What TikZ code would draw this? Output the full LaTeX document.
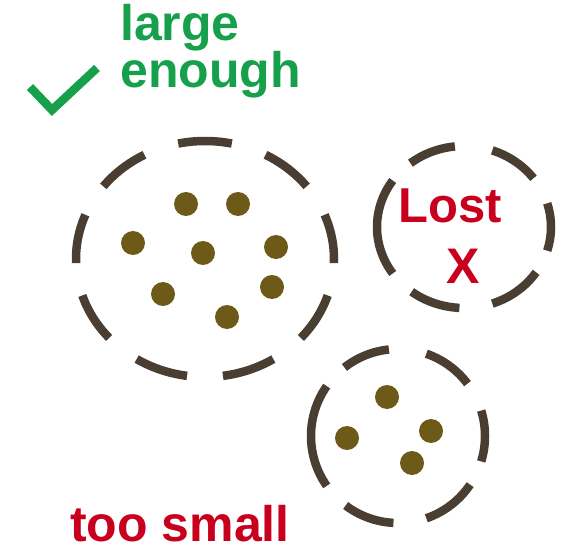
\documentclass[tikz,border=0pt]{standalone}
\usepackage{fontspec}
\setmainfont{Liberation Sans}
\definecolor{okgreen}{HTML}{17A04B}
\definecolor{lostred}{HTML}{C8001E}
\definecolor{rimc}{HTML}{4A3E32}
\definecolor{seed}{HTML}{6E5A18}
\tikzset{rim/.style={rimc,line width=8.5pt},
  seeds/.style={fill=seed},
  word/.style={font=\bfseries\fontsize{50}{43}\selectfont,inner sep=0pt,anchor=base west}}
% ring with a gap at top and bottom: centre, x radius, y radius
\newcommand{\ring}[3]{%
  \foreach \a/\b in {-17/17,37/71,96/128,145/215,233/267,289/326}
    \draw[rim] (#1) ++(\a:#2 and #3) arc[start angle=\a,end angle=\b,x radius=#2,y radius=#3];}

\begin{document}
\begin{tikzpicture}[x=1pt,y=1pt]
  \useasboundingbox (0,0) rectangle (575,552);
  \coordinate (bigc) at (205,293);
  \coordinate (lostc) at (464,325);
  \coordinate (smallc) at (398,116);
  % large group
  \foreach \a in {90,130,...,410}
    \draw[rim] (bigc) ++(\a-12:129 and 118) arc[start angle=\a-12,end angle=\a+12,x radius=129,y radius=118];
  \foreach \p in {(186,348),(238,348),(133,309),(203,299),(276,305),(163,258),(272,265),(227,235)}
    \fill[seeds] \p circle[radius=12];
  % lost group and small group
  \ring{lostc}{87}{81}
  \ring{smallc}{87}{87}
  \foreach \p in {(387,155),(347,114),(431,121),(412,89)}
    \fill[seeds] \p circle[radius=12];
  % labels
  \draw[okgreen,line width=8.5pt,line join=miter] (30,465) -- (52,442) -- (97,484);
  \node[word,okgreen,align=left] (large) at (120,464) {large\\enough};
  \node[word,lostred,font=\bfseries\fontsize{49}{49}\selectfont] (lost) at (398,329) {Lost};
  \node[word,lostred,anchor=base] (cross) at (463,269) {X};
  \node[word,lostred] (small) at (70,11) {too small};
\end{tikzpicture}
\end{document}
